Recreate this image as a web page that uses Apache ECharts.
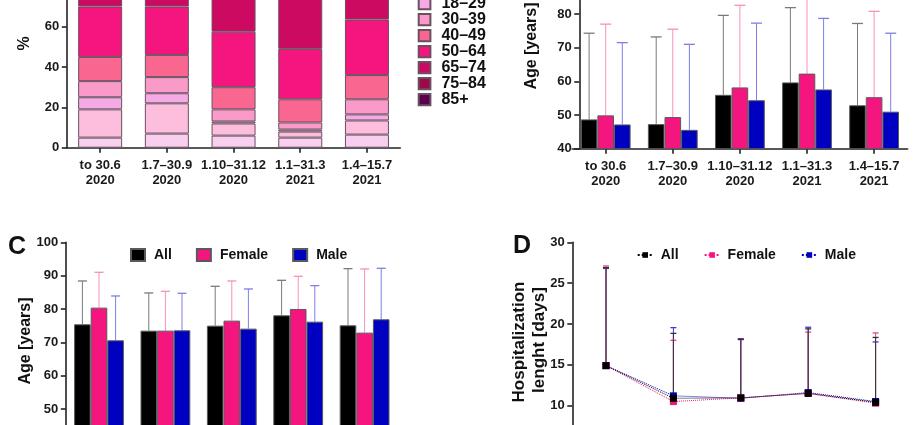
<!DOCTYPE html>
<html><head><meta charset="utf-8">
<script src="https://cdn.jsdelivr.net/npm/echarts@6/dist/echarts.min.js"></script>
<style>html,body{margin:0;padding:0;background:#fff}#c{width:920px;height:425px}</style>
</head><body><div id="c"></div>
<script>
// ---------- DATA ----------
const periods = ['to 30.6\n2020', '1.7–30.9\n2020', '1.10–31.12\n2020', '1.1–31.3\n2021', '1.4–15.7\n2021'];

// Panel A: share of patients (%) per age group, per period
const ageGroups = ['0–9', '10–17', '18–29', '30–39', '40–49', '50–64', '65–74', '75–84', '85+'];
const share0to9   = [5, 7, 6, 5, 6.5];
const share10to17 = [14, 15, 6, 3, 7];
const share18to29 = [6, 5, 1, 1, 3];
const share30to39 = [8, 8, 6, 3.5, 7.5];
const share40to49 = [12, 11, 11, 11.5, 12];
const share50to64 = [25, 24, 27.5, 25, 27.5];
const share65to74 = [15, 15, 22, 26, 18];
const share75to84 = [10, 10, 14, 17, 12];
const share85plus = [5, 5, 6.5, 8, 6.5];
const ageShares = [share0to9, share10to17, share18to29, share30to39, share40to49, share50to64, share65to74, share75to84, share85plus];

// Panel B: age [years], mean and SD
const bAllMean = [48.7, 47.3, 56.0, 59.7, 52.9];
const bAllSD   = [25.6, 25.9, 23.6, 22.2, 24.3];
const bFemMean = [49.9, 49.4, 58.2, 62.3, 55.3];
const bFemSD   = [27.1, 26.1, 24.4, 24.7, 25.5];
const bMalMean = [47.2, 45.6, 54.4, 57.6, 51.0];
const bMalSD   = [24.3, 25.4, 22.9, 21.1, 23.3];

// Panel C: age [years], mean and SD
const cAllMean = [75.4, 73.5, 75.0, 78.1, 75.1];
const cAllSD   = [13.0, 11.3, 11.8, 10.5, 17.0];
const cFemMean = [80.4, 73.5, 76.5, 80.0, 72.9];
const cFemSD   = [10.6, 11.8, 11.9, 9.8, 19.1];
const cMalMean = [70.6, 73.6, 74.1, 76.2, 76.9];
const cMalSD   = [13.3, 11.1, 11.9, 10.8, 15.3];

// Panel D: hospitalization length [days], mean and SD
const dAllMean = [14.9, 10.9, 10.95, 11.5, 10.4];
const dAllSD   = [12.0, 7.95, 7.15, 7.9, 7.95];
const dFemMean = [14.9, 10.5, 10.95, 11.5, 10.3];
const dFemSD   = [12.2, 7.5, 7.15, 7.5, 8.6];
const dMalMean = [14.9, 11.2, 10.9, 11.6, 10.5];
const dMalSD   = [11.9, 8.35, 7.3, 8.0, 7.3];

// ---------- STYLE ----------
const FONT = '"Liberation Sans", Arial, Helvetica, sans-serif';
const ageColors = ['#f9cff0', '#fdbedd', '#f5aae6', '#fa9ac9', '#f9668f', '#f5157f', '#cc0a62', '#9c0848', '#5c0050'];
const C_ALL = '#000000', C_FEM = '#f5157f', C_MAL = '#0000c0';
const E_ALL = '#7a7a7a', E_FEM = '#f78fbd', E_MAL = '#7e7ee6';
const axisLineStyle = { color: '#222', width: 1.6 };

function catAxis(gi) {
  return {
    type: 'category', gridIndex: gi, data: periods, boundaryGap: true,
    axisLine: { show: true, lineStyle: axisLineStyle },
    axisTick: { show: true, alignWithLabel: true, length: 5, lineStyle: axisLineStyle },
    axisLabel: { show: true, interval: 0, margin: 10, fontFamily: FONT, fontWeight: 'bold', fontSize: 13, lineHeight: 15.3, color: '#1a1a1a' },
    splitLine: { show: false }
  };
}
function valAxis(gi, min, max, interval, offset) {
  return {
    type: 'value', gridIndex: gi, min, max, interval, offset: offset || 0,
    axisLine: { show: true, lineStyle: axisLineStyle },
    axisTick: { show: true, length: 5, lineStyle: axisLineStyle },
    axisLabel: { margin: 7.5, fontFamily: FONT, fontWeight: 'bold', fontSize: 13, color: '#1a1a1a' },
    splitLine: { show: false }
  };
}
function errSeries(gi, mean, sd, color, slot, bw, cap, z, lw) {
  return {
    type: 'custom', name: 'err', xAxisIndex: gi, yAxisIndex: gi, z: z, silent: true,
    data: mean.map((m, i) => [i, m, m + sd[i]]),
    encode: { x: 0, y: [1, 2] },
    renderItem(params, api) {
      const lo = api.coord([api.value(0), api.value(1)]);
      const hi = api.coord([api.value(0), api.value(2)]);
      const x = lo[0] + slot * bw;
      return {
        type: 'group', children: [
          { type: 'line', shape: { x1: x, y1: lo[1], x2: x, y2: hi[1] }, style: { stroke: color, lineWidth: lw } },
          { type: 'line', shape: { x1: x - cap / 2, y1: hi[1], x2: x + cap / 2, y2: hi[1] }, style: { stroke: color, lineWidth: lw + 0.3 } }
        ]
      };
    }
  };
}
function barSeries(gi, name, data, color, bw) {
  return {
    type: 'bar', name, xAxisIndex: gi, yAxisIndex: gi, data, barWidth: bw, barGap: '0%', z: 2,
    itemStyle: { color, borderColor: '#5a5a5a', borderWidth: 1 }
  };
}

const series = [];
// Panel A
ageGroups.forEach((g, k) => {
  series.push({
    type: 'bar', name: g, stack: 'age', xAxisIndex: 0, yAxisIndex: 0, data: ageShares[k], barWidth: 44,
    itemStyle: { color: ageColors[k], borderColor: '#6a5060', borderWidth: 1 }
  });
});
// Panel B
const BW = 16.6;
series.push(errSeries(1, bAllMean, bAllSD, E_ALL, -1, BW, 11, 1, 1));
series.push(errSeries(1, bFemMean, bFemSD, E_FEM, 0, BW, 11, 1, 1));
series.push(errSeries(1, bMalMean, bMalSD, E_MAL, 1, BW, 11, 1, 1));
series.push(barSeries(1, 'All', bAllMean, C_ALL, BW));
series.push(barSeries(1, 'Female', bFemMean, C_FEM, BW));
series.push(barSeries(1, 'Male', bMalMean, C_MAL, BW));
// Panel C
series.push(errSeries(2, cAllMean, cAllSD, E_ALL, -1, BW, 9, 1, 1));
series.push(errSeries(2, cFemMean, cFemSD, E_FEM, 0, BW, 9, 1, 1));
series.push(errSeries(2, cMalMean, cMalSD, E_MAL, 1, BW, 9, 1, 1));
series.push(barSeries(2, 'All', cAllMean, C_ALL, BW));
series.push(barSeries(2, 'Female', cFemMean, C_FEM, BW));
series.push(barSeries(2, 'Male', cMalMean, C_MAL, BW));
// Panel D
series.push(errSeries(3, dMalMean, dMalSD, '#3a3ad0', 0, 0, 6, 1, 1));
series.push(errSeries(3, dFemMean, dFemSD, '#e8408e', 0, 0, 6, 1, 1));
series.push(errSeries(3, dAllMean, dAllSD, '#333333', 0, 0, 6, 1, 1));
function lineSeries(name, data, color, z) {
  return {
    type: 'line', name, xAxisIndex: 3, yAxisIndex: 3, data, z,
    symbol: 'rect', symbolSize: 7, showSymbol: true,
    lineStyle: { color, width: 1, type: 'dotted' },
    itemStyle: { color, borderWidth: 0 }
  };
}
series.push(lineSeries('D:Male', dMalMean, C_MAL, 3));
series.push(lineSeries('D:Female', dFemMean, C_FEM, 4));
series.push(lineSeries('D:All', dAllMean, C_ALL, 5));

const txt = (t, x, y, size, rot) => ({
  type: 'text', x, y, rotation: rot ? Math.PI / 2 : 0, silent: true,
  style: { text: t, fontFamily: FONT, fontWeight: 'bold', fontSize: size, fill: '#111', align: rot ? 'center' : 'left', verticalAlign: 'middle' }
});

const option = {
  animation: false,
  backgroundColor: '#ffffff',
  grid: [
    { left: 66.8, top: -54, width: 333.5, height: 201.7, outerBoundsMode: 'none', containLabel: false },
    { left: 572.15, top: -53.3, width: 335.5, height: 202, outerBoundsMode: 'none', containLabel: false },
    { left: 65.8, top: 242.3, width: 332, height: 200, outerBoundsMode: 'none', containLabel: false },
    { left: 572.3, top: 242.3, width: 337, height: 245, outerBoundsMode: 'none', containLabel: false }
  ],
  xAxis: [catAxis(0), catAxis(1), catAxis(2), catAxis(3)],
  yAxis: [valAxis(0, 0, 100, 20), valAxis(1, 40, 100, 10, -7.1), valAxis(2, 40, 100, 10), valAxis(3, 0, 30, 5)],
  legend: [
    {
      data: ageGroups.slice(2), orient: 'vertical', left: 417.7, top: -4.3, padding: 0,
      icon: 'rect', itemWidth: 11.7, itemHeight: 11.3, itemGap: 0, selectedMode: false,
      textStyle: { fontFamily: FONT, fontWeight: 'bold', fontSize: 16, lineHeight: 15.6, color: '#111', padding: [0, 0, 0, 6] }
    },
    {
      data: ['All', 'Female', 'Male'], orient: 'horizontal', left: 130, top: 248, padding: 0,
      icon: 'rect', itemWidth: 14, itemHeight: 12, itemGap: 24, selectedMode: false,
      textStyle: { fontFamily: FONT, fontWeight: 'bold', fontSize: 14, color: '#111', padding: [0, 0, 0, 4] }
    },
    {
      data: ['D:All', 'D:Female', 'D:Male'], orient: 'horizontal', left: 636.7, top: 248, padding: 0,
      itemWidth: 15, itemHeight: 7, itemGap: 25, selectedMode: false,
      formatter: n => n.slice(2),
      textStyle: { fontFamily: FONT, fontWeight: 'bold', fontSize: 14, color: '#111', padding: [0, 0, 0, 3] }
    }
  ],
  graphic: [
    txt('%', 25, 43.5, 16, true),
    txt('Age [years]', 531.5, 46, 16, true),
    txt('Age [years]', 25.8, 341, 16, true),
    txt('Hospitalization', 519, 342, 17, true),
    txt('lenght [days]', 539, 340, 17, true),
    txt('C', 8, 247, 25, false),
    txt('D', 513, 246, 25, false)
  ],
  series
};
const chart = echarts.init(document.getElementById('c'));
chart.setOption(option);
</script>
</body></html>
